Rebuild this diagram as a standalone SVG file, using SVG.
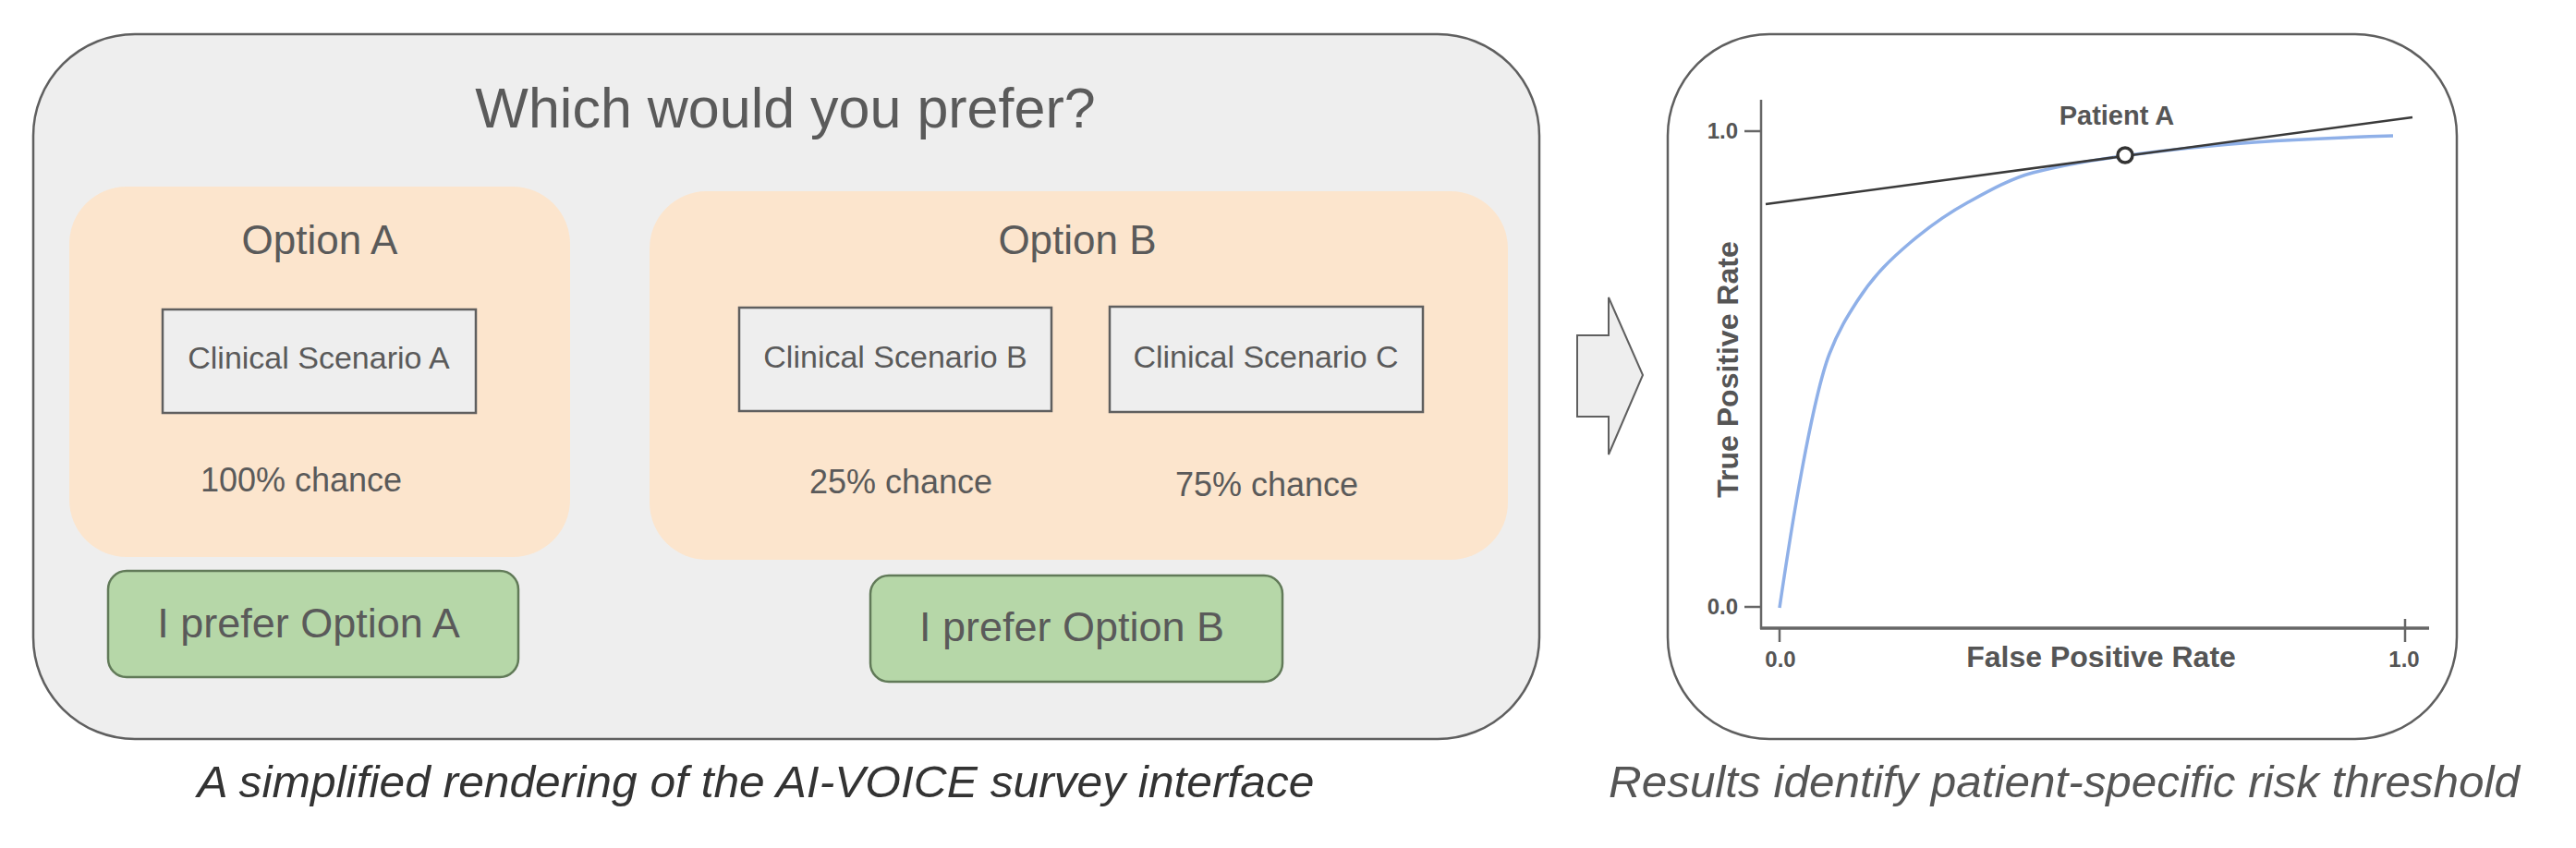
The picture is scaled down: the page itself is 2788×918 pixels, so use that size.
<svg xmlns="http://www.w3.org/2000/svg" width="2788" height="918" viewBox="0 0 2788 918">
<style>
text{font-family:"Liberation Sans",Arial,sans-serif}
.ui{fill:#5a5a5a}
.panel{fill:#eeeeee;stroke:#5f5f5f;stroke-width:2.5}
.opt{fill:#fce5cd;stroke:none}
.scn{fill:#eeeeee;stroke:#5f5f5f;stroke-width:2.5}
.btn{fill:#b6d7a8;stroke:#617a58;stroke-width:2.5}
.ax{stroke:#666;fill:none}
.lbl{fill:#555;font-weight:bold}
.cap{font-style:italic}
</style>
<rect width="2788" height="918" fill="#ffffff"/>
<g id="survey-panel">
<rect class="panel" x="36" y="37" width="1630" height="763" rx="110" ry="110"/>
<text class="ui" x="850" y="138" font-size="61" text-anchor="middle">Which would you prefer?</text>
</g>
<g id="option-a">
<rect class="opt" x="75" y="202" width="542" height="401" rx="62" ry="62"/>
<text class="ui" x="346" y="275" font-size="44" text-anchor="middle">Option A</text>
</g>
<g id="scenario-a">
<rect class="scn" x="176" y="335" width="339" height="112"/>
<text class="ui" x="345" y="399" font-size="34" text-anchor="middle">Clinical Scenario A</text>
</g>
<g id="chance-a"><text class="ui" x="326" y="532" font-size="36" text-anchor="middle">100% chance</text></g>
<g id="option-b">
<rect class="opt" x="703" y="207" width="929" height="399" rx="62" ry="62"/>
<text class="ui" x="1166" y="275" font-size="44" text-anchor="middle">Option B</text>
</g>
<g id="scenario-b">
<rect class="scn" x="800" y="333" width="338" height="112"/>
<text class="ui" x="969" y="398" font-size="34" text-anchor="middle">Clinical Scenario B</text>
</g>
<g id="scenario-c">
<rect class="scn" x="1201" y="332" width="339" height="114"/>
<text class="ui" x="1370" y="398" font-size="34" text-anchor="middle">Clinical Scenario C</text>
</g>
<g id="chance-b"><text class="ui" x="975" y="534" font-size="36" text-anchor="middle">25% chance</text></g>
<g id="chance-c"><text class="ui" x="1371" y="537" font-size="36" text-anchor="middle">75% chance</text></g>
<g id="button-a">
<rect class="btn" x="117" y="618" width="444" height="115" rx="20" ry="20"/>
<text class="ui" x="334" y="690" font-size="45" text-anchor="middle">I prefer Option A</text>
</g>
<g id="button-b">
<rect class="btn" x="942" y="623" width="446" height="115" rx="20" ry="20"/>
<text class="ui" x="1160" y="694" font-size="45" text-anchor="middle">I prefer Option B</text>
</g>
<g id="caption-left"><text class="cap" x="818" y="863" font-size="48" fill="#333" text-anchor="middle" textLength="1209" lengthAdjust="spacingAndGlyphs">A simplified rendering of the AI-VOICE survey interface</text></g>
<g id="connectors">
<path d="M1707,363 L1741,363 L1741,322 L1778,406 L1741,492 L1741,451 L1707,451 Z" fill="#eeeeee" stroke="#5f5f5f" stroke-width="2"/>
</g>
<g id="roc-panel">
<rect x="1805" y="37" width="854" height="763" rx="110" ry="110" fill="#ffffff" stroke="#5f5f5f" stroke-width="2.5"/>
<line class="ax" x1="1906" y1="108" x2="1906" y2="681" stroke-width="2.5"/>
<line class="ax" x1="1905" y1="680" x2="2629" y2="680" stroke-width="3.5"/>
<line class="ax" x1="1888" y1="142" x2="1906" y2="142" stroke-width="2.5"/>
<line class="ax" x1="1888" y1="657" x2="1906" y2="657" stroke-width="2.5"/>
<line class="ax" x1="1926" y1="680" x2="1926" y2="695" stroke-width="2.5"/>
<line class="ax" x1="2603" y1="670" x2="2603" y2="695" stroke-width="2.5"/>
<text class="lbl" x="1881" y="150" font-size="24" text-anchor="end">1.0</text>
<text class="lbl" x="1881" y="665" font-size="24" text-anchor="end">0.0</text>
<text class="lbl" x="1927" y="722" font-size="24" text-anchor="middle">0.0</text>
<text class="lbl" x="2602" y="722" font-size="24" text-anchor="middle">1.0</text>
<text class="lbl" x="2274" y="722" font-size="32" text-anchor="middle">False Positive Rate</text>
<text class="lbl" transform="translate(1881,400) rotate(-90)" x="0" y="0" font-size="32" text-anchor="middle">True Positive Rate</text>
<path d="M1926,658 C1934,603.6 1942,553.2 1950,510 C1960,456 1970,409 1980,383 C1990,357 2000,341.5 2010,326 C2029,296.55 2048,279.15 2067,263 C2088,245.15 2109,230.55 2130,219 C2153.3,206.2 2176.7,193.1 2200,187 C2233.3,178.3 2266.7,173 2300,168.5 C2346.7,162.25 2393.3,157.3 2440,154 C2490,150.5 2540,148.5 2590,147" fill="none" stroke="#8fb0e8" stroke-width="3.5"/>
<line x1="1911" y1="221" x2="2611" y2="127" stroke="#3a3a3a" stroke-width="2.5"/>
<circle cx="2300" cy="168" r="8" fill="#ffffff" stroke="#333" stroke-width="3.5"/>
<text class="lbl" x="2291" y="135" font-size="29" text-anchor="middle">Patient A</text>
</g>
<g id="caption-right"><text class="cap" x="2234" y="863" font-size="48" fill="#555" text-anchor="middle" textLength="986" lengthAdjust="spacingAndGlyphs">Results identify patient-specific risk threshold</text></g>
</svg>
